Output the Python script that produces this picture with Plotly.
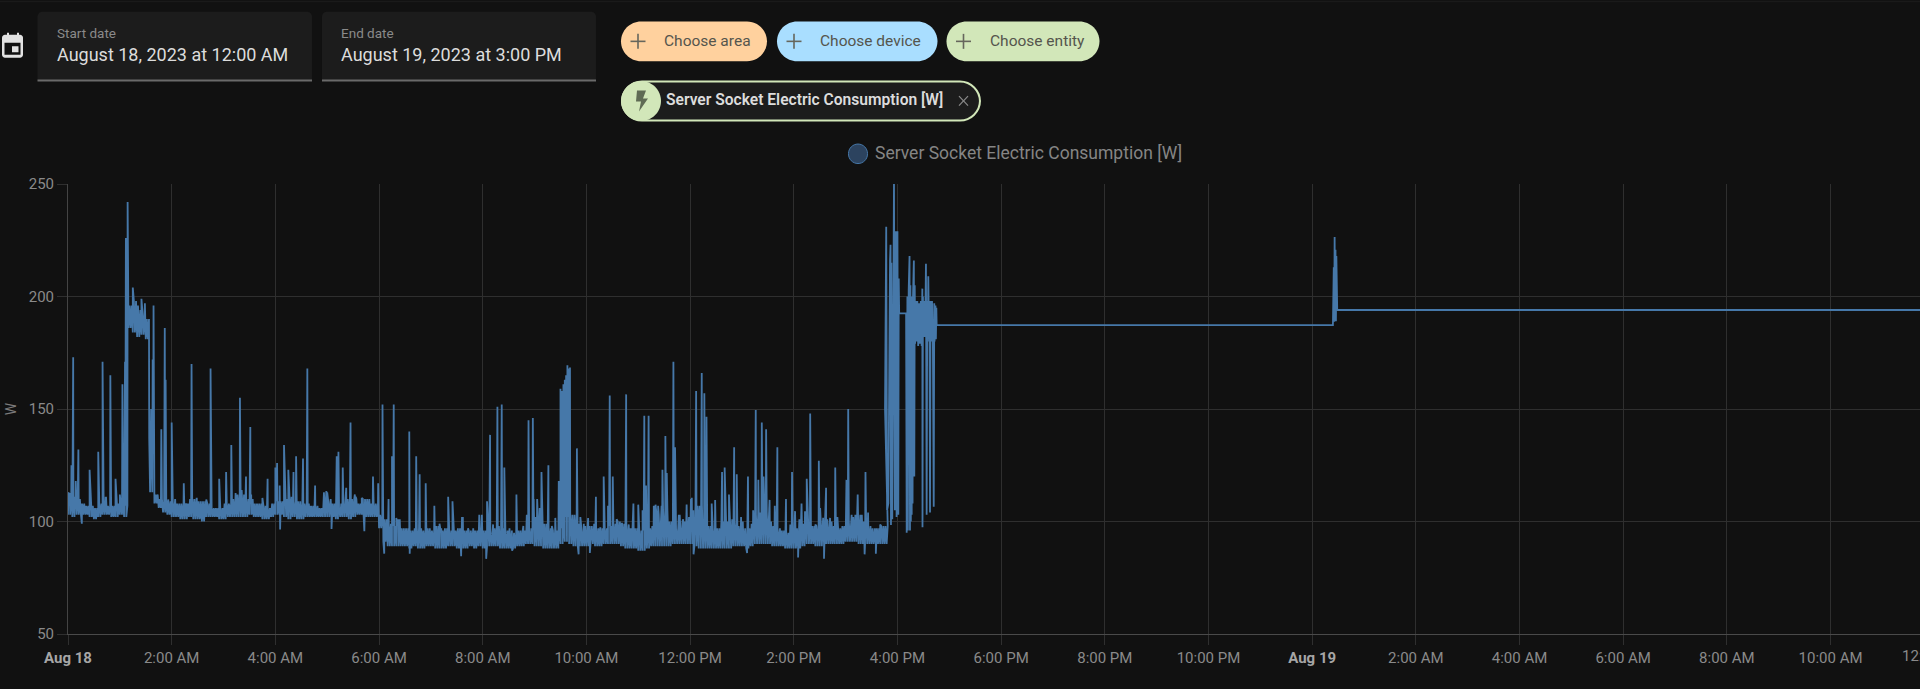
import pandas as pd
import plotly.graph_objects as go

band_low = [
    103, 102, 103, 103, 103, 102, 101, 102, 103, 103,
    102, 102, 103, 102, 186, 184, 182, 183, 181, 113,
    108, 106, 104, 103, 102, 102, 101, 101, 102, 101,
    101, 100, 102, 102, 102, 101, 101, 102, 102, 102,
    102, 102, 103, 102, 102, 101, 101, 102, 103, 103,
    102, 101, 102, 101, 101, 102, 102, 102, 102, 102,
    102, 102, 101, 102, 102, 101, 102, 103, 103, 102,
    102, 102, 97, 91, 89, 89, 89, 89, 89, 88,
    89, 88, 88, 89, 89, 88, 88, 88, 89, 89,
    88, 88, 88, 89, 88, 89, 88, 89, 89, 89,
    88, 88, 88, 88, 89, 89, 90, 90, 89, 89,
    88, 88, 88, 88, 90, 91, 90, 89, 89, 89,
    89, 90, 89, 89, 90, 90, 90, 90, 89, 88,
    88, 88, 87, 87, 88, 89, 89, 89, 89, 89,
    90, 90, 90, 90, 90, 89, 88, 88, 88, 88,
    88, 88, 88, 88, 89, 89, 89, 88, 89, 90,
    90, 90, 90, 89, 89, 89, 88, 88, 88, 88,
    89, 90, 90, 89, 89, 90, 90, 90, 90, 90,
    91, 91, 91, 90, 90, 90, 90, 90, 90, 90,
]
band_high = [
    111, 109, 110, 108, 107, 107, 106, 108, 108, 107,
    107, 108, 108, 107, 196, 198, 194, 193, 190, 150,
    112, 110, 109, 109, 109, 108, 108, 108, 110, 110,
    109, 109, 108, 106, 106, 106, 108, 108, 110, 112,
    112, 110, 110, 108, 108, 107, 106, 108, 109, 109,
    110, 111, 109, 109, 108, 108, 107, 107, 106, 113,
    109, 108, 106, 108, 110, 110, 110, 108, 110, 110,
    108, 108, 103, 101, 99, 98, 98, 97, 97, 96,
    97, 97, 96, 97, 96, 98, 96, 97, 96, 96,
    97, 96, 96, 96, 96, 97, 96, 96, 97, 98,
    97, 96, 96, 95, 96, 96, 96, 97, 102, 102,
    99, 97, 96, 96, 97, 102, 103, 103, 99, 98,
    98, 98, 97, 97, 97, 98, 99, 100, 99, 98,
    97, 97, 96, 96, 97, 98, 103, 105, 105, 100,
    97, 97, 100, 102, 105, 107, 107, 100, 98, 97,
    97, 100, 100, 101, 100, 98, 97, 97, 99, 103,
    104, 104, 100, 98, 97, 96, 95, 96, 97, 99,
    99, 98, 98, 98, 100, 101, 100, 98, 97, 98,
    100, 102, 103, 103, 100, 98, 97, 97, 98, 98,
]
spike_minutes = [
    0.5, 4, 6, 9, 12, 25, 35, 40, 44, 49, 55, 60, 63, 66, 67, 69,
    75, 81, 85, 89, 92, 94, 98, 99,
    108, 112, 113, 120, 134, 143, 165, 175, 183, 189, 199, 206, 211, 231, 240, 242, 245, 250, 255,
    261, 264, 272, 277, 286, 300, 311, 313, 318, 322, 327, 333, 353, 359, 364, 371, 375, 377, 382,
    395, 403, 407, 414, 424, 430, 440, 445, 456, 469, 476,
    485, 488.5, 497, 502, 505, 519, 533, 538, 543, 548, 556, 570, 572, 573.4, 575, 576.5, 578, 579.5, 581,
    589, 602, 611, 620, 627, 630.5, 646, 654.4, 660, 667, 672, 678, 683, 688, 691.4, 700.7, 702.6, 707,
    721, 727, 733.5, 736.5, 739, 745, 749, 760, 765, 771, 774, 779, 787, 796, 803, 808, 812, 821, 831,
    838, 849, 855, 859, 869, 877.4, 888, 901, 903, 914, 923, 926,
    # dips under the band
    16, 245.5, 305, 343, 366, 395.5, 455, 484, 514, 591, 604, 724, 786, 845, 875, 922, 935,
]
spike_values = [
    113, 125, 173, 118, 132, 123, 131, 171, 111, 165, 119, 112, 161, 171, 226, 242,
    204, 196, 199, 197, 184, 137, 172, 196,
    141, 186, 163, 144, 117, 170, 168, 119, 122, 134, 155, 120, 142, 119, 124, 126, 116, 134, 123,
    122, 129, 128, 168, 116, 113, 129, 131, 124, 115, 144, 111, 120, 117, 152, 110, 129, 152, 101,
    140, 129, 121, 117, 107, 99, 110, 109, 102, 97, 103,
    109, 138.5, 151, 152, 124, 112, 145, 146, 110, 122, 125, 159, 158, 161, 163, 165, 169.5, 168, 168.5,
    132.5, 101.5, 111, 120, 156, 120, 156.5, 108, 107.5, 147, 147, 107, 107, 123, 138, 171, 133, 103,
    110, 158, 166, 157, 146.6, 108, 109.6, 124, 112, 133, 121, 102, 120, 149.6, 144, 141, 109.6, 133, 110,
    122, 108, 119, 148, 127, 115, 124, 118.5, 150, 112, 122, 104,
    99, 96.5, 96.7, 95.7, 85.7, 85.7, 84.6, 83.4, 87, 85.4, 86, 85.4, 86, 84, 83.4, 85.4, 85.7,
]
# smaller hairs on top of the band
hair_minutes = [
    2, 8, 26.6, 43.6, 102.6, 116, 124, 137, 149, 160, 194, 201, 212, 225, 299, 304, 332, 340,
    380, 384, 432, 440, 457, 463,
    479, 492, 511, 527, 531, 539, 546, 560, 564, 568, 593, 597, 609, 616, 625, 635, 641, 649,
    665, 669, 680, 687, 693, 708, 712, 716, 722, 730, 757, 781, 793, 799, 805, 818, 824, 836,
    841.5, 846.5, 853, 865, 870.5, 874, 882, 890.5, 896.7, 907, 911, 917, 934, 940,
]
hair_values = [
    112.7, 111, 112.7, 111, 111, 109.8, 110, 107.5, 110.5, 109.8, 112.7, 114, 112, 110.5, 113.5, 110, 112, 110.5,
    101.6, 101, 97, 111, 102, 97,
    103, 98.7, 97, 98, 103, 110, 106, 98, 101.6, 118, 102, 99, 99, 97, 107, 101, 99, 98.7,
    105, 116, 107.5, 107, 121.6, 103, 101, 107.5, 110.5, 98.7, 122, 100, 105, 118.6, 120, 107, 97, 98.7,
    104.6, 101, 104.6, 98.7, 106, 101.6, 101.6, 102, 96.5, 103, 103, 103, 97, 98.7,
]
# the unsteady stretch around 4 PM, then the two flat levels
tail_minutes = [
    945.6, 947, 948, 949.5, 951.4, 952, 952.5, 953, 954, 955, 956, 957, 958, 959, 960, 961, 961.5, 962, 970,
    970.7, 971.5, 972, 973, 974, 974.5, 975, 975.5, 976, 976.5, 977, 977.5, 978, 979, 979.5,
    980, 980.5, 981, 982, 983, 984, 985, 986, 987, 988, 988.8, 989, 989.5, 990, 991, 992, 993, 993.8,
    994.5, 995, 995.7, 996.5, 997, 997.7, 998.3, 999, 1000, 1001, 1002, 1002.6, 1003, 1004, 1004.5, 1005, 1005.4,
    1464, 1465, 1465.5, 1466, 1466.5, 1467, 1467.5, 1468, 1469, 2340,
]
tail_values = [
    150, 231, 105, 108, 216, 223, 98.5, 215, 101, 190, 252, 105, 229, 102, 229, 103, 208, 192.5, 192.5,
    95, 200, 96, 203, 218, 96, 205, 100, 200, 103, 198, 108, 200, 216, 120,
    205, 179, 198, 180, 198, 178, 197, 179, 198, 178, 203.5, 97.5, 200, 182, 198, 182, 214.6, 103,
    198, 180, 209, 183, 198, 104, 198, 180, 198, 180, 106.6, 197, 180, 196, 181, 195, 187.3,
    187.3, 213, 188.8, 226.5, 190, 220.8, 189, 218, 194, 194,
]
tick_minutes = [0, 120, 240, 360, 480, 600, 720, 840, 960, 1080, 1200, 1320, 1440, 1560, 1680, 1800, 1920, 2040]
tick_labels = [
    "Aug 18", "2:00 AM", "4:00 AM", "6:00 AM", "8:00 AM", "10:00 AM", "12:00 PM", "2:00 PM", "4:00 PM",
    "6:00 PM", "8:00 PM", "10:00 PM", "Aug 19", "2:00 AM", "4:00 AM", "6:00 AM", "8:00 AM", "10:00 AM",
]
y_ticks = [50, 100, 150, 200, 250]
series_name = "Server Socket Electric Consumption [W]"
chip_names = ["Choose area", "Choose device", "Choose entity"]
date_labels = ["Start date", "End date"]
date_values = ["August 18, 2023 at 12:00 AM", "August 19, 2023 at 3:00 PM"]

start = pd.Timestamp("2023-08-18 00:00")


def to_time(minutes):
    return [start + pd.Timedelta(minutes=m) for m in minutes]


# each 5 minute reading is stroked twice so the noisy band closes up like in the screenshot
points = []
for i, (low, high) in enumerate(zip(band_low, band_high)):
    for part in (0, 1.25, 2.5, 3.75):
        points.append((i * 5 + part, high if part in (1.25, 3.75) else low))
points += list(zip(spike_minutes, spike_values))
points += list(zip(hair_minutes, hair_values))
points.sort(key=lambda p: p[0])
points += list(zip(tail_minutes, tail_values))

# plot area in window pixels
LEFT, RIGHT, TOP, BOTTOM = 68, 1920, 183.5, 634
BG = "#111111"
GRID = "#2f2f2f"
LINE_BLUE = "#4678a9"


def px(x):
    return (x - LEFT) / (RIGHT - LEFT)


def py(y):
    return (BOTTOM - y) / (BOTTOM - TOP)


def round_path(x0, y0, x1, y1, rl, rr=None, square_bottom=False):
    # rounded box, plotly shape paths do not take arcs so corners are cubic
    rr = rl if rr is None else rr
    k = 0.45
    rb_l = 0 if square_bottom else rl
    rb_r = 0 if square_bottom else rr
    p = lambda a, b: f"{px(a):.6f},{py(b):.6f}"
    return (
        f"M{p(x0 + rl, y0)} L{p(x1 - rr, y0)} "
        f"C{p(x1 - rr * k, y0)} {p(x1, y0 + rr * k)} {p(x1, y0 + rr)} "
        f"L{p(x1, y1 - rb_r)} "
        f"C{p(x1, y1 - rb_r * k)} {p(x1 - rb_r * k, y1)} {p(x1 - rb_r, y1)} "
        f"L{p(x0 + rb_l, y1)} "
        f"C{p(x0 + rb_l * k, y1)} {p(x0, y1 - rb_l * k)} {p(x0, y1 - rb_l)} "
        f"L{p(x0, y0 + rl)} "
        f"C{p(x0, y0 + rl * k)} {p(x0 + rl * k, y0)} {p(x0 + rl, y0)} Z"
    )


shapes = []
annotations = []


def box(x0, y0, x1, y1, color, r=0, r2=None, square_bottom=False, line=None, line_width=0):
    shapes.append(dict(
        type="path", xref="paper", yref="paper",
        path=round_path(x0, y0, x1, y1, r, r2, square_bottom),
        fillcolor=color, line=dict(color=line or color, width=line_width),
    ))


def seg(x0, y0, x1, y1, color, width):
    shapes.append(dict(
        type="line", xref="paper", yref="paper",
        x0=px(x0), y0=py(y0), x1=px(x1), y1=py(y1),
        line=dict(color=color, width=width),
    ))


def label(x, y, text, size, color, anchor="left", weight=None):
    font = dict(family="Roboto", size=size, color=color)
    if weight:
        font["weight"] = weight
    annotations.append(dict(
        xref="paper", yref="paper", x=px(x), y=py(y), text=text,
        xanchor=anchor, yanchor="middle", showarrow=False, font=font,
    ))


# top edge of the page
box(0, 0, 1920, 1.5, "#1a1a1a")

# calendar icon
box(2, 34, 23, 57, "#e2e2e2", 3)
box(7, 32, 9, 37, "#e2e2e2")
box(17, 32, 19, 37, "#e2e2e2")
box(4.5, 42, 20.5, 54, BG)
box(12, 45.5, 18.5, 51.5, "#e2e2e2")

# date fields
field_spans = [(37.5, 312), (322, 596)]
for (x0, x1), name, value in zip(field_spans, date_labels, date_values):
    box(x0, 11, x1, 80, "#1c1c1c", 5, square_bottom=True)
    seg(x0, 80, x1, 80, "#6a6a6a", 2)
    label(x0 + 17, 32.5, name, 13.5, "#8a8a8a")
    label(x0 + 17, 54, value, 18, "#dcdcdc")

# add-target chips
chip_spans = [(621, 767), (777, 937.5), (946.5, 1099.5)]
chip_colors = ["#ffd19e", "#a9deff", "#d2e7b9"]
for (x0, x1), color, name in zip(chip_spans, chip_colors, chip_names):
    box(x0, 20.7, x1, 60.7, color, 20)
    cx = x0 + 17
    seg(cx - 7.5, 40.7, cx + 7.5, 40.7, "#66665c", 1.6)
    seg(cx, 33.2, cx, 48.2, "#66665c", 1.6)
    label(x0 + 41, 40, name, 15.5, "#55554d")

# selected entity chip
box(622, 81, 980, 120, "#1c1c1c", 20, line="#d2e7b9", line_width=2)
shapes.append(dict(
    type="path", xref="paper", yref="paper", fillcolor="#d2e7b9",
    line=dict(color="#d2e7b9", width=0),
    path=round_path(621, 80.5, 661, 120.5, 20),
))
bolt = [(637, 90), (646, 90), (643, 98), (648, 98), (639, 111), (641, 101), (636, 101)]
shapes.append(dict(
    type="path", xref="paper", yref="paper", fillcolor="#5f6b54",
    line=dict(color="#5f6b54", width=0),
    path="M" + " L".join(f"{px(a):.6f},{py(b):.6f}" for a, b in bolt) + " Z",
))
label(663.5, 99.5, series_name, 15.6, "#dcdcdc", weight=600)
seg(959, 95.5, 968, 105, "#8a8a8a", 1.2)
seg(959, 105, 968, 95.5, "#8a8a8a", 1.2)

# legend entry
box(848.5, 143.5, 867.5, 163, "#2c435f", 9.5, line=LINE_BLUE, line_width=1)
label(873, 152, series_name, 17.5, "#858585")

# the 12:00 PM label runs off the right side of the window
label(1934, 656, "12:00 PM", 15, "#8a8a8a", anchor="center")

tick_text = []
for t in tick_labels:
    if t.startswith("Aug"):
        tick_text.append(f'<span style="color:#a6a6a6"><b>{t}</b></span>')
    else:
        tick_text.append(t)

fig = go.Figure()
fig.add_trace(go.Scatter(
    x=to_time([p[0] for p in points]),
    y=[p[1] for p in points],
    mode="lines",
    name=series_name,
    line=dict(color=LINE_BLUE, width=1.8),
    hoverinfo="skip",
))
fig.update_layout(
    width=1920,
    height=689,
    autosize=False,
    paper_bgcolor=BG,
    plot_bgcolor=BG,
    showlegend=False,
    margin=dict(l=LEFT, r=1920 - RIGHT, t=TOP, b=689 - BOTTOM, pad=0),
    font=dict(family="Roboto", size=15, color="#8a8a8a"),
    shapes=shapes,
    annotations=annotations,
)
fig.update_xaxes(
    type="date",
    range=[start, start + pd.Timedelta(minutes=2143.5)],
    tickmode="array",
    tickvals=to_time(tick_minutes),
    ticktext=tick_text,
    tickangle=0,
    showgrid=True,
    gridcolor=GRID,
    gridwidth=1,
    showline=True,
    linecolor="#4a4a4a",
    linewidth=1,
    ticks="outside",
    ticklen=10,
    tickcolor=GRID,
    zeroline=False,
)
fig.update_yaxes(
    range=[50, 250],
    tickmode="array",
    tickvals=y_ticks,
    showgrid=True,
    gridcolor=GRID,
    gridwidth=1,
    showline=True,
    linecolor="#444444",
    linewidth=1,
    ticks="outside",
    ticklen=10,
    tickcolor=GRID,
    zeroline=False,
    title=dict(text="W", font=dict(size=14, color="#7b7b7b"), standoff=8),
)
fig.write_html(
    "out.html",
    config={"displayModeBar": False},
    post_script="document.body.style.margin='0';document.body.style.background='#111111';document.body.style.overflow='hidden';",
)
